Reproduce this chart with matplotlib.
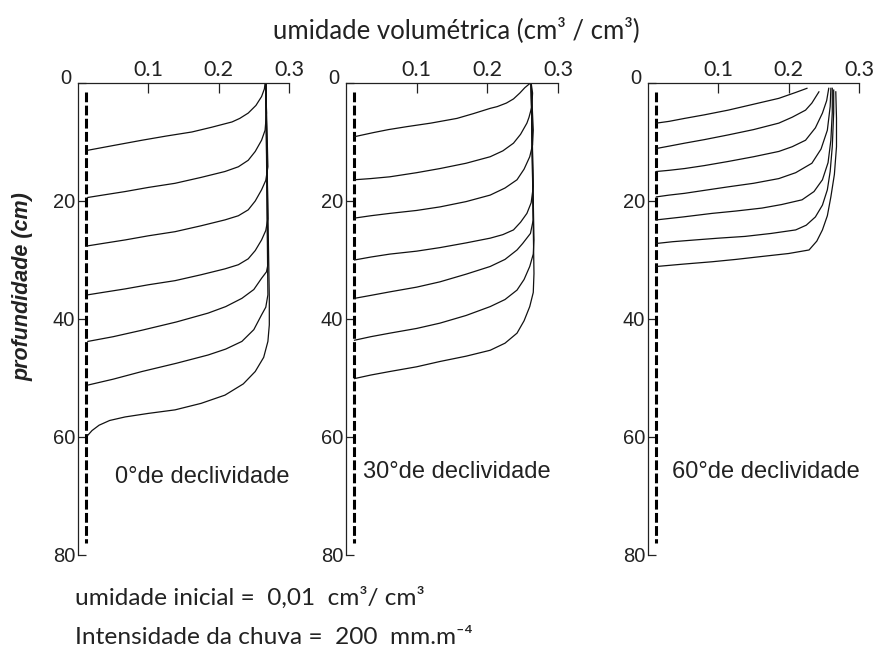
import matplotlib
matplotlib.use('Agg')
import matplotlib.pyplot as plt
import matplotlib.transforms as mtransforms

# ---------------- data ----------------
panel_labels = ["0°de declividade", "30°de declividade", "60°de declividade"]
x_ticks = [0.1, 0.2, 0.3]
x_tick_labels = ["0.1", "0.2", "0.3"]
y_ticks = [0, 20, 40, 60, 80]
y_tick_labels = ["0", "20", "40", "60", "80"]
theta_initial = 0.012
initial_depth = [1.5, 78.0]

# panel 1 : 0 degrees  (volumetric moisture, depth in cm)
p1_theta = [
    [0.266, 0.265, 0.261, 0.253, 0.242, 0.230, 0.219, 0.190, 0.162, 0.125, 0.091, 0.050, 0.014],
    [0.267, 0.268, 0.266, 0.261, 0.252, 0.242, 0.228, 0.209, 0.175, 0.138, 0.100, 0.067, 0.035, 0.014],
    [0.267, 0.270, 0.267, 0.261, 0.252, 0.242, 0.228, 0.209, 0.175, 0.138, 0.100, 0.067, 0.035, 0.014],
    [0.267, 0.270, 0.267, 0.261, 0.252, 0.242, 0.228, 0.209, 0.175, 0.138, 0.100, 0.067, 0.035, 0.014],
    [0.267, 0.270, 0.268, 0.261, 0.250, 0.233, 0.210, 0.185, 0.140, 0.091, 0.050, 0.014],
    [0.267, 0.270, 0.267, 0.261, 0.250, 0.233, 0.210, 0.185, 0.140, 0.091, 0.050, 0.014],
    [0.267, 0.272, 0.272, 0.270, 0.264, 0.252, 0.235, 0.209, 0.175, 0.138, 0.100, 0.067, 0.045, 0.030, 0.020, 0.014],
]
p1_depth = [
    [0, 1.0, 2.3, 3.8, 5.1, 6.0, 6.6, 7.5, 8.3, 9.0, 9.7, 10.6, 11.4],
    [0, 5.1, 8.0, 9.7, 11.6, 13.1, 14.2, 15.0, 16.0, 17.0, 17.7, 18.4, 19.0, 19.4],
    [0, 14.2, 16.5, 18.1, 20.0, 21.5, 22.5, 23.2, 24.2, 25.2, 25.9, 26.6, 27.2, 27.6],
    [0, 23.0, 25.0, 26.6, 28.4, 29.8, 30.8, 31.5, 32.5, 33.5, 34.2, 34.9, 35.5, 35.9],
    [0, 30.8, 32.0, 33.1, 35.0, 36.5, 37.9, 39.0, 40.5, 41.9, 43.0, 43.8],
    [0, 35.9, 38.0, 39.3, 41.8, 43.8, 45.1, 46.1, 47.5, 48.9, 50.2, 51.2],
    [0, 36.5, 41.0, 43.8, 46.5, 48.9, 51.0, 52.9, 54.3, 55.4, 56.0, 56.6, 57.2, 58.0, 58.9, 59.7],
]

# panel 2 : 30 degrees
p2_theta = [
    [0.261, 0.253, 0.246, 0.237, 0.227, 0.214, 0.204, 0.180, 0.157, 0.120, 0.086, 0.060, 0.039, 0.012],
    [0.262, 0.264, 0.263, 0.259, 0.256, 0.247, 0.237, 0.222, 0.204, 0.170, 0.133, 0.100, 0.062, 0.035, 0.012],
    [0.262, 0.265, 0.264, 0.260, 0.252, 0.242, 0.225, 0.204, 0.170, 0.133, 0.100, 0.062, 0.035, 0.012],
    [0.262, 0.265, 0.262, 0.256, 0.247, 0.237, 0.222, 0.204, 0.170, 0.133, 0.100, 0.062, 0.035, 0.012],
    [0.262, 0.265, 0.261, 0.250, 0.242, 0.225, 0.204, 0.170, 0.133, 0.100, 0.062, 0.035, 0.012],
    [0.262, 0.266, 0.265, 0.260, 0.252, 0.242, 0.225, 0.204, 0.170, 0.133, 0.100, 0.062, 0.035, 0.012],
    [0.262, 0.266, 0.265, 0.260, 0.252, 0.242, 0.225, 0.204, 0.170, 0.133, 0.100, 0.062, 0.035, 0.012],
]
p2_depth = [
    [0, 0.8, 1.7, 2.7, 3.4, 4.0, 4.3, 5.2, 6.0, 6.8, 7.4, 7.9, 8.4, 9.1],
    [0, 1.7, 4.0, 5.8, 6.8, 8.7, 10.2, 11.5, 12.5, 13.6, 14.5, 15.2, 15.9, 16.2, 16.4],
    [0, 8.0, 10.5, 12.5, 14.6, 16.4, 17.8, 19.0, 20.1, 21.0, 21.6, 22.1, 22.5, 22.9],
    [0, 17.6, 20.3, 22.1, 23.6, 24.9, 25.7, 26.3, 27.1, 27.9, 28.5, 29.0, 29.5, 30.0],
    [0, 23.2, 25.5, 27.2, 28.3, 29.9, 31.1, 32.4, 33.7, 34.6, 35.4, 36.0, 36.5],
    [0, 26.6, 29.0, 31.1, 33.3, 35.1, 36.7, 37.9, 39.4, 40.7, 41.6, 42.4, 43.0, 43.6],
    [0, 32.3, 35.5, 37.9, 40.3, 42.4, 44.1, 45.3, 46.3, 47.2, 48.1, 48.9, 49.5, 50.1],
]

# panel 3 : 60 degrees
p3_theta = [
    [0.226, 0.210, 0.186, 0.150, 0.114, 0.080, 0.052, 0.030, 0.012],
    [0.243, 0.233, 0.224, 0.205, 0.186, 0.150, 0.114, 0.080, 0.052, 0.030, 0.012],
    [0.257, 0.254, 0.248, 0.238, 0.224, 0.205, 0.186, 0.150, 0.114, 0.080, 0.052, 0.030, 0.012],
    [0.260, 0.259, 0.255, 0.246, 0.233, 0.210, 0.186, 0.150, 0.114, 0.080, 0.052, 0.030, 0.012],
    [0.262, 0.262, 0.260, 0.256, 0.248, 0.236, 0.219, 0.190, 0.162, 0.125, 0.091, 0.050, 0.012],
    [0.264, 0.264, 0.262, 0.259, 0.255, 0.248, 0.238, 0.225, 0.210, 0.175, 0.138, 0.100, 0.067, 0.035, 0.012],
    [0.267, 0.268, 0.268, 0.265, 0.260, 0.255, 0.248, 0.240, 0.229, 0.200, 0.162, 0.125, 0.091, 0.050, 0.012],
]
p3_depth = [
    [0.9, 1.6, 2.6, 3.6, 4.6, 5.4, 6.0, 6.5, 6.8],
    [1.5, 3.4, 4.6, 5.8, 6.8, 7.9, 8.8, 9.6, 10.2, 10.7, 11.1],
    [0.9, 3.0, 5.1, 7.6, 9.7, 10.8, 11.6, 12.5, 13.3, 14.0, 14.5, 14.8, 15.0],
    [0.9, 4.0, 8.0, 11.2, 13.6, 15.2, 16.2, 17.0, 17.6, 18.2, 18.7, 19.0, 19.3],
    [0.9, 5.0, 9.7, 13.5, 16.4, 18.4, 19.8, 20.6, 21.2, 21.7, 22.1, 22.7, 23.2],
    [1.2, 5.0, 10.8, 15.0, 18.1, 20.7, 22.7, 24.1, 24.9, 25.5, 26.0, 26.3, 26.6, 26.9, 27.2],
    [1.5, 6.0, 10.8, 15.5, 19.3, 22.5, 24.9, 26.8, 28.3, 28.9, 29.4, 29.9, 30.3, 30.7, 31.1],
]

title_text = "umidade volumétrica (cm³ / cm³)"
ylabel_text = "profundidade (cm)"
note1 = "umidade inicial =  0,01  cm³/ cm³"
note2 = "Intensidade da chuva =  200  mm.m⁻⁴"

# ---------------- figure ----------------
W, H = 875, 649
fig = plt.figure(figsize=(W / 100, H / 100), dpi=100)
fig.patch.set_facecolor('white')


def fx(px):
    return px / W


def fy(py):
    return 1 - py / H


panel_px = [(78, 289), (346, 558), (648, 859)]
top_py, bot_py = 83, 555
label_pos = [(0.053, 66.8), (0.024, 66.0), (0.034, 66.0)]

thetas = [p1_theta, p2_theta, p3_theta]
depths = [p1_depth, p2_depth, p3_depth]

sans = ['Liberation Sans', 'DejaVu Sans']
humanist = ['Lato', 'DejaVu Sans']
ink = '#222222'

for i, (l, r) in enumerate(panel_px):
    ax = fig.add_axes([fx(l), fy(bot_py), (r - l) / W, (bot_py - top_py) / H])
    ax.set_xlim(0, 0.3)
    ax.set_ylim(80, 0)
    ax.patch.set_alpha(0)
    for s in ['right', 'bottom']:
        ax.spines[s].set_visible(False)
    for s in ['top', 'left']:
        ax.spines[s].set_linewidth(0.9)
        ax.spines[s].set_color(ink)
    ax.xaxis.tick_top()
    ax.set_xticks(x_ticks)
    ax.set_xticklabels(x_tick_labels, family=humanist, fontsize=15.5, color=ink)
    ax.tick_params(axis='x', direction='in', length=7, width=0.9, pad=2, colors=ink)
    ax.set_yticks(y_ticks)
    ax.set_yticklabels(y_tick_labels, family=sans, fontsize=14.5, color=ink)
    ax.tick_params(axis='y', direction='in', length=6, width=0.9, pad=2, colors=ink)
    lab0 = ax.get_yticklabels()[0]
    lab0.set_transform(lab0.get_transform() +
                       mtransforms.ScaledTranslation(-3 / 72, 5 / 72, fig.dpi_scale_trans))

    # initial moisture (dashed)
    ax.plot([theta_initial, theta_initial], initial_depth, color='black',
            lw=2.2, dashes=(3.2, 1.1), solid_capstyle='butt')
    for th, d in zip(thetas[i], depths[i]):
        ax.plot(th, d, color='#111111', lw=0.9, solid_joinstyle='round')

    ax.text(label_pos[i][0], label_pos[i][1], panel_labels[i], family=sans,
            fontsize=17, va='center', ha='left', color=ink)

fig.text(fx(456), fy(30), title_text, family=humanist, fontsize=18.5,
         ha='center', va='center', color=ink)
fig.text(fx(23), fy(287), ylabel_text, family=sans, fontsize=15.5,
         fontstyle='italic', fontweight='bold', rotation=90,
         ha='center', va='center', color=ink)
fig.text(fx(75), fy(598), note1, family=humanist, fontsize=17.6,
         ha='left', va='center', color=ink)
fig.text(fx(75), fy(637), note2, family=humanist, fontsize=17.6,
         ha='left', va='center', color=ink)

fig.savefig('out.png', dpi=100, facecolor='white')
